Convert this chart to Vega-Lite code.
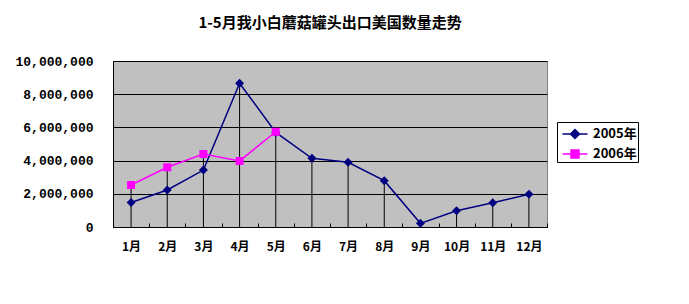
{
  "$schema": "https://vega.github.io/schema/vega-lite/v6.json",
  "width": 434,
  "height": 166,
  "autosize": {"type": "none"},
  "padding": {"left": 113, "top": 61, "right": 142, "bottom": 77},
  "background": "white",
  "title": {
    "text": "1-5月我小白蘑菇罐头出口美国数量走势",
    "font": "Noto Sans CJK SC",
    "fontSize": 15,
    "fontWeight": "bold",
    "color": "black",
    "frame": "group",
    "anchor": "middle",
    "offset": 24
  },
  "config": {
    "view": {"fill": "#C0C0C0", "stroke": "#808080", "strokeWidth": 1},
    "axis": {"domainColor": "black", "domainWidth": 1, "labelColor": "black", "labelFontWeight": "bold"}
  },
  "data": {
    "values": [
      {"month": "1月", "series": "2005年", "value": 1480000},
      {"month": "2月", "series": "2005年", "value": 2230000},
      {"month": "3月", "series": "2005年", "value": 3430000},
      {"month": "4月", "series": "2005年", "value": 8660000},
      {"month": "5月", "series": "2005年", "value": 5700000},
      {"month": "6月", "series": "2005年", "value": 4140000},
      {"month": "7月", "series": "2005年", "value": 3900000},
      {"month": "8月", "series": "2005年", "value": 2790000},
      {"month": "9月", "series": "2005年", "value": 220000},
      {"month": "10月", "series": "2005年", "value": 980000},
      {"month": "11月", "series": "2005年", "value": 1460000},
      {"month": "12月", "series": "2005年", "value": 1970000},
      {"month": "1月", "series": "2006年", "value": 2530000},
      {"month": "2月", "series": "2006年", "value": 3600000},
      {"month": "3月", "series": "2006年", "value": 4400000},
      {"month": "4月", "series": "2006年", "value": 3980000},
      {"month": "5月", "series": "2006年", "value": 5740000}
    ]
  },
  "encoding": {
    "x": {
      "field": "month",
      "type": "ordinal",
      "sort": ["1月", "2月", "3月", "4月", "5月", "6月", "7月", "8月", "9月", "10月", "11月", "12月"],
      "scale": {"paddingInner": 0, "paddingOuter": 0},
      "axis": {
        "title": null,
        "labelAngle": 0,
        "labelFont": "Noto Sans CJK SC",
        "labelFontSize": 12,
        "labelPadding": 18,
        "tickBand": "extent",
        "tickSize": -4,
        "tickColor": "black",
        "grid": false
      }
    },
    "y": {
      "field": "value",
      "type": "quantitative",
      "scale": {"domain": [0, 10000000], "nice": false},
      "axis": {
        "title": null,
        "values": [0, 2000000, 4000000, 6000000, 8000000, 10000000],
        "format": ",d",
        "grid": true,
        "gridColor": "black",
        "gridOpacity": 1,
        "gridWidth": 1,
        "ticks": false,
        "labelOverlap": false,
        "labelFont": "Liberation Mono",
        "labelFontSize": 13,
        "labelPadding": 20
      }
    },
    "color": {
      "field": "series",
      "type": "nominal",
      "scale": {"domain": ["2005年", "2006年"], "range": ["#000080", "#FF00FF"]},
      "legend": {
        "title": null,
        "orient": "none",
        "legendX": 444,
        "legendY": 61,
        "strokeColor": "black",
        "fillColor": "white",
        "padding": 1,
        "rowPadding": 1,
        "symbolSize": 400,
        "symbolOffset": 6,
        "labelOffset": 7,
        "labelFont": "Noto Sans CJK SC",
        "labelFontSize": 13,
        "labelFontWeight": "bold",
        "labelColor": "black",
        "encode": {"symbols": {"update": {"stroke": {"scale": "color", "field": "value"}, "strokeWidth": {"value": 1.5}}}}
      }
    }
  },
  "layer": [
    {
      "mark": {"type": "rule", "strokeWidth": 1},
      "encoding": {
        "y": {"aggregate": "max", "field": "value", "type": "quantitative"},
        "y2": {"datum": 0},
        "color": {"value": "black"}
      }
    },
    {
      "mark": {"type": "line", "strokeWidth": 1.5}
    },
    {
      "mark": {"type": "point", "filled": true, "opacity": 1, "size": 400},
      "encoding": {
        "shape": {"field": "series", "type": "nominal", "scale": {"domain": ["2005年", "2006年"], "range": ["M-1.25,0H1.25M0,-0.45L0.45,0L0,0.45L-0.45,0Z", "M-1.25,0H1.25M-0.4,-0.4H0.4V0.4H-0.4Z"]}}
      }
    }
  ]
}
